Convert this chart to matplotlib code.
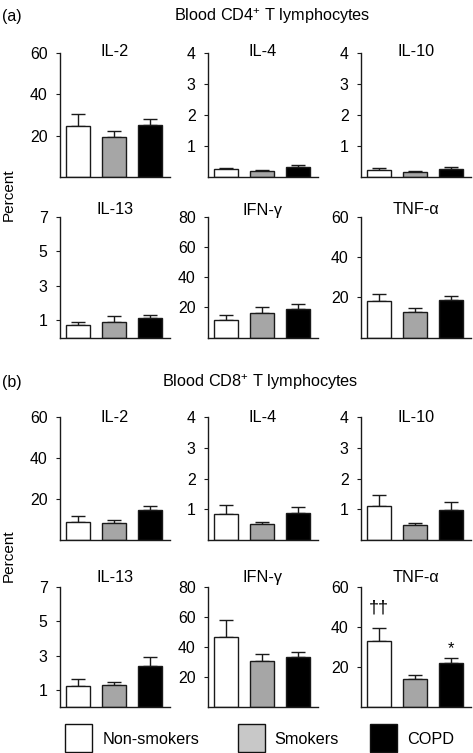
import matplotlib
matplotlib.use("Agg")
import matplotlib.pyplot as plt
from matplotlib.patches import Rectangle

plt.rcParams['font.family'] = ['Liberation Sans', 'DejaVu Sans']
plt.rcParams['mathtext.fontset'] = 'custom'
plt.rcParams['mathtext.rm'] = 'Liberation Sans'
plt.rcParams['mathtext.it'] = 'Liberation Sans'
plt.rcParams['mathtext.default'] = 'regular'

groups = ["Non-smokers", "Smokers", "COPD"]
colors = ["#ffffff", "#a6a6a6", "#000000"]
legend_colors = ["#ffffff", "#c8c8c8", "#000000"]

cytokines = ["IL-2", "IL-4", "IL-10", "IL-13", "IFN-γ", "TNF-α"]
ylims = [60, 4, 4, 7, 80, 60]
yticks = [[20, 40, 60], [1, 2, 3, 4], [1, 2, 3, 4], [1, 3, 5, 7],
          [20, 40, 60, 80], [20, 40, 60]]

# Blood CD4+ T lymphocytes: means and upper SEM
cd4_il2 = [24.8, 19.5, 25.3];    cd4_il2_err = [5.5, 2.6, 2.9]
cd4_il4 = [0.25, 0.18, 0.33];    cd4_il4_err = [0.05, 0.05, 0.07]
cd4_il10 = [0.22, 0.17, 0.25];   cd4_il10_err = [0.06, 0.03, 0.06]
cd4_il13 = [0.72, 0.92, 1.15];   cd4_il13_err = [0.18, 0.30, 0.17]
cd4_ifng = [11.9, 16.1, 19.1];   cd4_ifng_err = [3.1, 4.1, 3.1]
cd4_tnfa = [18.2, 12.7, 18.7];   cd4_tnfa_err = [3.4, 1.8, 2.1]

# Blood CD8+ T lymphocytes
cd8_il2 = [8.8, 8.3, 14.8];      cd8_il2_err = [2.8, 1.3, 1.9]
cd8_il4 = [0.83, 0.51, 0.89];    cd8_il4_err = [0.32, 0.09, 0.18]
cd8_il10 = [1.11, 0.50, 0.98];   cd8_il10_err = [0.35, 0.06, 0.24]
cd8_il13 = [1.25, 1.28, 2.42];   cd8_il13_err = [0.38, 0.20, 0.47]
cd8_ifng = [46.7, 30.9, 33.3];   cd8_ifng_err = [11.3, 4.7, 3.6]
cd8_tnfa = [32.8, 14.2, 22.2];   cd8_tnfa_err = [6.9, 2.0, 2.3]

cd4_vals = [cd4_il2, cd4_il4, cd4_il10, cd4_il13, cd4_ifng, cd4_tnfa]
cd4_errs = [cd4_il2_err, cd4_il4_err, cd4_il10_err, cd4_il13_err, cd4_ifng_err, cd4_tnfa_err]
cd8_vals = [cd8_il2, cd8_il4, cd8_il10, cd8_il13, cd8_ifng, cd8_tnfa]
cd8_errs = [cd8_il2_err, cd8_il4_err, cd8_il10_err, cd8_il13_err, cd8_ifng_err, cd8_tnfa_err]

W, H = 473, 753
fig = plt.figure(figsize=(W / 100, H / 100), dpi=100)

col_left = [60, 208, 361]
col_w = 110
# (top, bottom, title baseline) in pixels
rows = [(53, 177, 56.5), (217, 337.5, 214.5), (417, 540, 422), (587, 707, 582)]

def fx(px):
    return px / W

def fy(py):
    return 1 - py / H

axes_list = []
for panel, (vals, errs) in enumerate([(cd4_vals, cd4_errs), (cd8_vals, cd8_errs)]):
    for i in range(6):
        r = panel * 2 + i // 3
        c = i % 3
        top, bot, tb = rows[r]
        ax = fig.add_axes([fx(col_left[c]), fy(bot), fx(col_w), (bot - top) / H])
        x = [0, 1, 2]
        ax.bar(x, vals[i], width=0.66, color=colors, edgecolor="#1a1a1a",
               linewidth=1.0, zorder=2)
        ax.errorbar(x, vals[i], yerr=[[0, 0, 0], errs[i]], fmt="none",
                    ecolor="#1a1a1a", elinewidth=1.0, capsize=5, capthick=1.0,
                    zorder=1)
        ax.set_xlim(-0.5, 2.55)
        ax.set_ylim(0, ylims[i])
        ax.set_yticks(yticks[i])
        ax.set_xticks([])
        for s in ["top", "right"]:
            ax.spines[s].set_visible(False)
        for s in ["left", "bottom"]:
            ax.spines[s].set_color("#1a1a1a")
            ax.spines[s].set_linewidth(1.0)
        ax.tick_params(axis="y", length=3, width=0.8, color="#1a1a1a",
                       labelsize=11.4, pad=6)
        fig.text(fx(col_left[c] + col_w / 2), fy(tb), cytokines[i],
                 ha="center", va="baseline", fontsize=11.7)
        axes_list.append(ax)

# significance marks on CD8 TNF-alpha
ax_t = axes_list[11]
ax_t.annotate("††", xy=(0, cd8_tnfa[0] + cd8_tnfa_err[0]), xytext=(0, 8),
              textcoords="offset points", ha="center", va="bottom", fontsize=13)
ax_t.annotate("*", xy=(2, cd8_tnfa[2] + cd8_tnfa_err[2]), xytext=(0, 1),
              textcoords="offset points", ha="center", va="bottom", fontsize=12)

# headers
fig.text(fx(2), fy(20.5), "(a)", ha="left", va="baseline", fontsize=11.5)
fig.text(fx(272), fy(20.5), "Blood CD4$^{+}$ T lymphocytes", ha="center",
         va="baseline", fontsize=11.7)
fig.text(fx(2), fy(387), "(b)", ha="left", va="baseline", fontsize=11.5)
fig.text(fx(260), fy(387), "Blood CD8$^{+}$ T lymphocytes", ha="center",
         va="baseline", fontsize=11.7)

fig.text(fx(9), fy(195), "Percent", rotation=90, ha="center", va="center",
         fontsize=11)
fig.text(fx(9), fy(556), "Percent", rotation=90, ha="center", va="center",
         fontsize=11)

# legend
box_x = [65, 238, 370]
text_x = [103, 274, 407]
for bx, tx, col, lab in zip(box_x, text_x, legend_colors, groups):
    fig.patches.append(Rectangle((fx(bx), fy(752)), fx(27), 28 / H,
                                 transform=fig.transFigure, facecolor=col,
                                 edgecolor="#111111", linewidth=1.0))
    fig.text(fx(tx), fy(739), lab, ha="left", va="center", fontsize=11.7)

fig.savefig("out.png", dpi=100)
